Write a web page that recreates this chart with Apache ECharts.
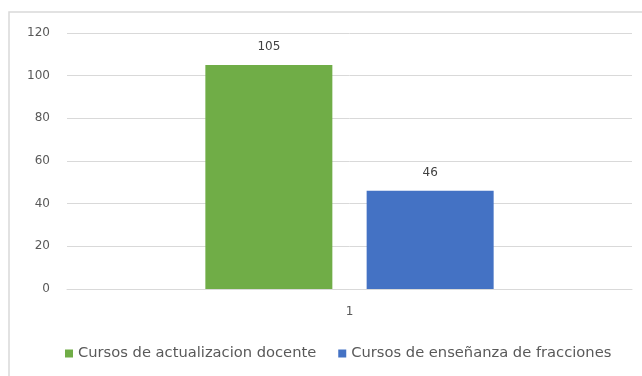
<!DOCTYPE html>
<html>
<head>
<meta charset="utf-8">
<script src="https://cdn.jsdelivr.net/npm/echarts@6/dist/echarts.min.js"></script>
<style>
  html, body { margin: 0; padding: 0; background: #fff; }
  #chart { width: 642px; height: 376px; }
</style>
</head>
<body>
<div id="chart"></div>
<script>
const categories = ['1'];
const seriesNames = ['Cursos de actualizacion docente', 'Cursos de enseñanza de fracciones'];
const actualizacion = [105];
const fracciones = [46];
const yTicks = [0, 20, 40, 60, 80, 100, 120];

const chart = echarts.init(document.getElementById('chart'), null, { renderer: 'canvas' });
const font = 'DejaVu Sans';
const labelStyle = { show: true, position: 'top', color: '#404040', fontSize: 12, fontFamily: font, distance: 12 };

chart.setOption({
  animation: false,
  backgroundColor: '#fff',
  graphic: [{
    type: 'rect',
    shape: { x: 9, y: 12, width: 650, height: 400 },
    style: { fill: 'none', stroke: '#d9d9d9', lineWidth: 1.5 },
    silent: true
  }],
  grid: { left: 67, right: 10, top: 33, bottom: 87 },
  legend: {
    bottom: 10,
    left: 60,
    itemWidth: 8,
    itemHeight: 8,
    itemGap: 22,
    icon: 'rect',
    textStyle: { color: '#595959', fontSize: 14.7, fontFamily: font },
    data: seriesNames
  },
  xAxis: {
    type: 'category',
    data: categories,
    axisLine: { show: true, lineStyle: { color: '#d9d9d9' } },
    axisTick: { show: false },
    axisLabel: { color: '#595959', fontSize: 12, fontFamily: font, margin: 17 }
  },
  yAxis: {
    type: 'value',
    min: yTicks[0],
    max: yTicks[yTicks.length - 1],
    interval: 20,
    axisLine: { show: false },
    axisTick: { show: false },
    axisLabel: { color: '#595959', fontSize: 12, fontFamily: font, margin: 17 },
    splitLine: { lineStyle: { color: '#d9d9d9', width: 1 } }
  },
  series: [
    {
      name: seriesNames[0],
      type: 'bar',
      data: actualizacion,
      barWidth: 127,
      barGap: '27%',
      itemStyle: { color: '#70ad47' },
      label: labelStyle
    },
    {
      name: seriesNames[1],
      type: 'bar',
      data: fracciones,
      barWidth: 127,
      itemStyle: { color: '#4472c4' },
      label: labelStyle
    }
  ]
});
</script>
</body>
</html>
